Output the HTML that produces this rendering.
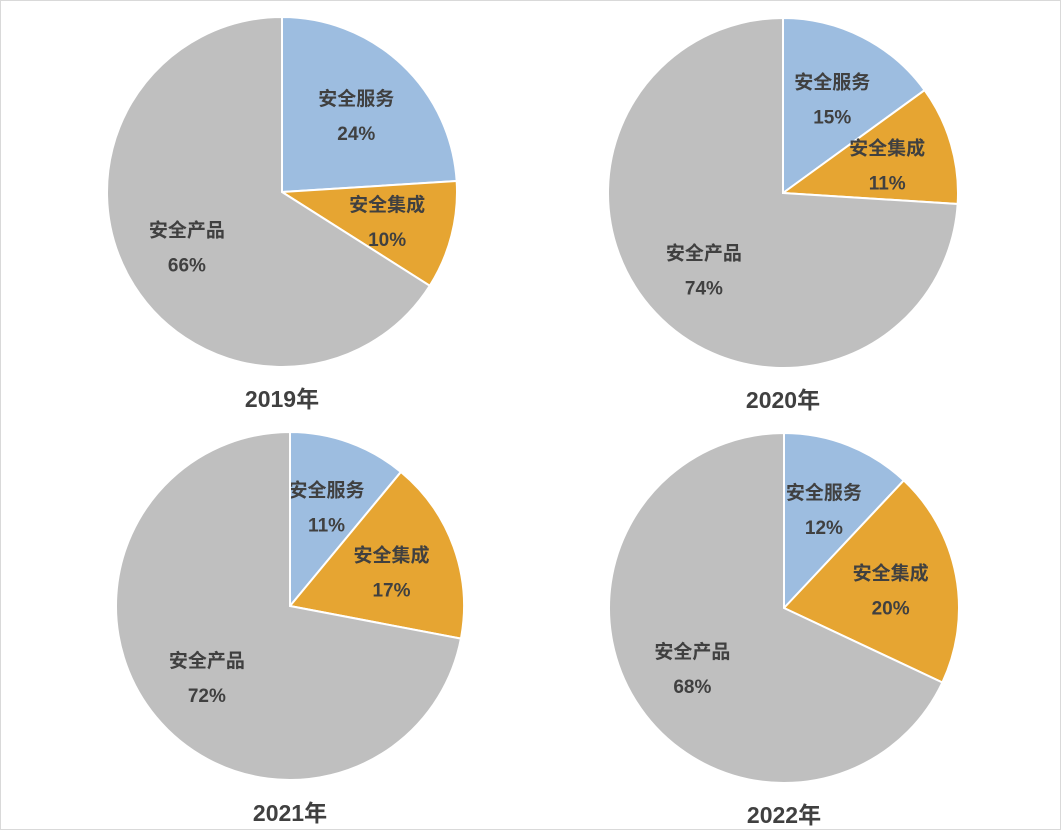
<!DOCTYPE html>
<html><head><meta charset="utf-8">
<style>
html,body{margin:0;padding:0;background:#fff;}
#wrap{width:1061px;height:830px;position:relative;box-sizing:border-box;border:1px solid #d9d9d9;}
svg text{font-family:"Liberation Sans","Noto Sans CJK SC",sans-serif;font-weight:bold;fill:#404040;}
</style></head>
<body>
<div id="wrap">
<svg id="chart" width="1061" height="830"></svg>
</div>
<script>
const categories = ["安全服务","安全集成","安全产品"];
const years = ["2019年","2020年","2021年","2022年"];
const values2019 = [24,10,66];
const values2020 = [15,11,74];
const values2021 = [11,17,72];
const values2022 = [12,20,68];
const colors = ["#9dbde0","#e6a532","#bfbfbf"];
const allValues = [values2019,values2020,values2021,values2022];
const layout = [{cx:281,cy:191,r:175,ty:406},{cx:782,cy:192,r:175,ty:407},{cx:289,cy:605,r:174,ty:820},{cx:783,cy:607,r:175,ty:822}];
const NS="http://www.w3.org/2000/svg";
const svg=document.getElementById('chart');
function pt(cx,cy,r,a){return [cx+r*Math.sin(a),cy-r*Math.cos(a)];}
allValues.forEach((vals,i)=>{
  const L=layout[i];
  const total=vals.reduce((a,b)=>a+b,0);
  let start=0;
  const g=document.createElementNS(NS,'g');
  
  
  svg.appendChild(g);
  vals.forEach((v,j)=>{
    const a0=start/total*2*Math.PI, a1=(start+v)/total*2*Math.PI;
    const p0=pt(L.cx,L.cy,L.r,a0), p1=pt(L.cx,L.cy,L.r,a1);
    const large=(a1-a0)>Math.PI?1:0;
    const path=document.createElementNS(NS,'path');
    path.setAttribute('d',`M${L.cx},${L.cy} L${p0[0]},${p0[1]} A${L.r},${L.r} 0 ${large} 1 ${p1[0]},${p1[1]} Z`);
    path.setAttribute('fill',colors[j]);
    path.setAttribute('stroke','#fff');
    path.setAttribute('stroke-width','2');
    
    
    g.appendChild(path);
    const am=(a0+a1)/2;
    const lp=pt(L.cx,L.cy,L.r*0.62,am);
    const t1=document.createElementNS(NS,'text');
    t1.setAttribute('x',lp[0]);t1.setAttribute('y',lp[1]-8);
    t1.setAttribute('text-anchor','middle');t1.setAttribute('font-size','19');
    t1.textContent=categories[j];
    
    
    g.appendChild(t1);
    const t2=document.createElementNS(NS,'text');
    t2.setAttribute('x',lp[0]);t2.setAttribute('y',lp[1]+27);
    t2.setAttribute('text-anchor','middle');t2.setAttribute('font-size','19');
    t2.textContent=v+'%';
    
    
    g.appendChild(t2);
    start+=v;
  });
  const tt=document.createElementNS(NS,'text');
  tt.setAttribute('x',L.cx);tt.setAttribute('y',L.ty);
  tt.setAttribute('text-anchor','middle');tt.setAttribute('font-size','23');
  tt.textContent=years[i];
  
  
  g.appendChild(tt);
});
</script>
</body></html>
